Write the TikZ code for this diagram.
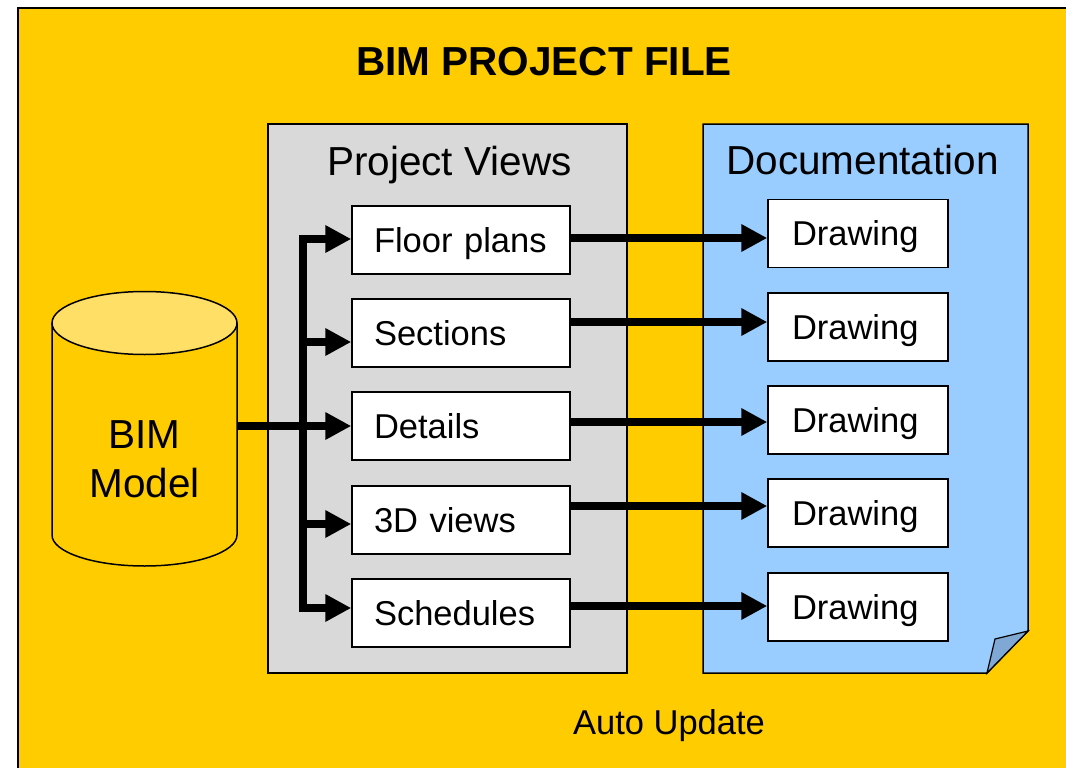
\documentclass[tikz,border=0pt]{standalone}
\usepackage{fontspec}
\setmainfont{Liberation Sans}
\usetikzlibrary{arrows.meta}
\definecolor{bgyellow}{HTML}{FFCC00}
\definecolor{pvgray}{HTML}{D9D9D9}
\definecolor{docblue}{HTML}{99CCFF}
\definecolor{foldblue}{HTML}{7FA8D4}
\definecolor{cyltop}{HTML}{FFDF66}
\tikzset{
  bigtxt/.style={font=\fontsize{40.5pt}{48pt}\selectfont, inner sep=0pt},
  smalltxt/.style={font=\fontsize{34.5pt}{40pt}\selectfont, inner sep=0pt},
  viewbox/.style={draw=black, line width=1.5pt, fill=white, minimum height=68pt,
    text width=174pt, inner xsep=22pt, inner ysep=0pt, align=left,
    text height=24.7pt, text depth=0pt, font=\fontsize{34.5pt}{40pt}\selectfont},
  drawbox/.style={draw=black, line width=1.5pt, fill=white, minimum height=68pt,
    text width=132pt, inner xsep=24pt, inner ysep=0pt, align=left,
    text height=24.7pt, text depth=0pt, font=\fontsize{34.5pt}{40pt}\selectfont},
  arr/.style={line width=8.5pt, -{Triangle[length=26pt,width=26pt]}},
  frame/.style={draw=black, line width=1.5pt}
}
\begin{document}
\begin{tikzpicture}[x=1pt,y=-1pt]
\useasboundingbox (0,0) rectangle (1066,768);
% outer background
\filldraw[fill=bgyellow, draw=black, line width=2pt] (18,8) rectangle (1090,790);
% title
\node[bigtxt, font=\fontsize{40.5pt}{48pt}\selectfont\bfseries, anchor=base] (title) at (544,76) {BIM PROJECT FILE};
% project views frame
\filldraw[frame, fill=pvgray] (268,124) rectangle (627,673);
\node[bigtxt, anchor=base] (pvtitle) at (449.5,175) {Project Views};
% documentation sheet
\filldraw[frame, fill=docblue] (703,124) -- (1028,124) -- (1028,631) -- (987,673) -- (703,673) -- cycle;
\filldraw[draw=black, line width=1.2pt, fill=foldblue] (987,673) -- (995,639) -- (1028,631) -- cycle;
\node[bigtxt, anchor=base] (doctitle) at (862.5,174) {Documentation};
% cylinder
\fill[bgyellow] (52,323) -- (52,535) arc[start angle=180, end angle=360, x radius=92.5pt, y radius=31pt] -- (237,323) -- cycle;
\draw[line width=1.5pt] (52,323) -- (52,535) arc[start angle=180, end angle=360, x radius=92.5pt, y radius=31pt] -- (237,323);
\filldraw[fill=cyltop, draw=black, line width=1.5pt] (144.5,323) ellipse [x radius=92.5pt, y radius=31.5pt];
\node[bigtxt, anchor=base] (bim1) at (144.5,448) {BIM};
\node[bigtxt, anchor=base] (bim2) at (144.5,497) {Model};
\coordinate (cylE) at (237,426);
% view boxes
\node[viewbox] (v1) at (461,240) {Floor plans};
\node[viewbox] (v2) at (461,333) {Sections};
\node[viewbox] (v3) at (461,426) {Details};
\node[viewbox] (v4) at (461,520) {3D views};
\node[viewbox] (v5) at (461,613) {Schedules};
% drawing boxes
\node[drawbox] (d1) at (858,233.5) {Drawing};
\node[drawbox] (d2) at (858,327) {Drawing};
\node[drawbox] (d3) at (858,420) {Drawing};
\node[drawbox] (d4) at (858,513) {Drawing};
\node[drawbox] (d5) at (858,607) {Drawing};
% bus and branches
\coordinate (bus) at (303,426);
\coordinate (b1) at ([yshift=1pt]v1.west);
\coordinate (b2) at ([yshift=-9pt]v2.west);
\coordinate (b4) at ([yshift=-4pt]v4.west);
\coordinate (b5) at ([yshift=5pt]v5.west);
\draw[arr] (bus) |- (b1);
\draw[arr] (bus) |- (b2);
\draw[arr] (bus) |- (b4);
\draw[arr] (bus) |- (b5);
\draw[arr] (cylE) -- (v3.west);
% view to drawing arrows
\coordinate (a1) at ([yshift=2pt]v1.east);
\coordinate (a2) at ([yshift=11pt]v2.east);
\coordinate (a3) at ([yshift=4pt]v3.east);
\coordinate (a4) at ([yshift=14pt]v4.east);
\coordinate (a5) at ([yshift=7pt]v5.east);
\draw[arr] (a1) -- (a1 -| d1.west);
\draw[arr] (a2) -- (a2 -| d2.west);
\draw[arr] (a3) -- (a3 -| d3.west);
\draw[arr] (a4) -- (a4 -| d4.west);
\draw[arr] (a5) -- (a5 -| d5.west);
% auto update
\node[smalltxt, anchor=base] (auto) at (669,734) {Auto Update};
\end{tikzpicture}
\end{document}
